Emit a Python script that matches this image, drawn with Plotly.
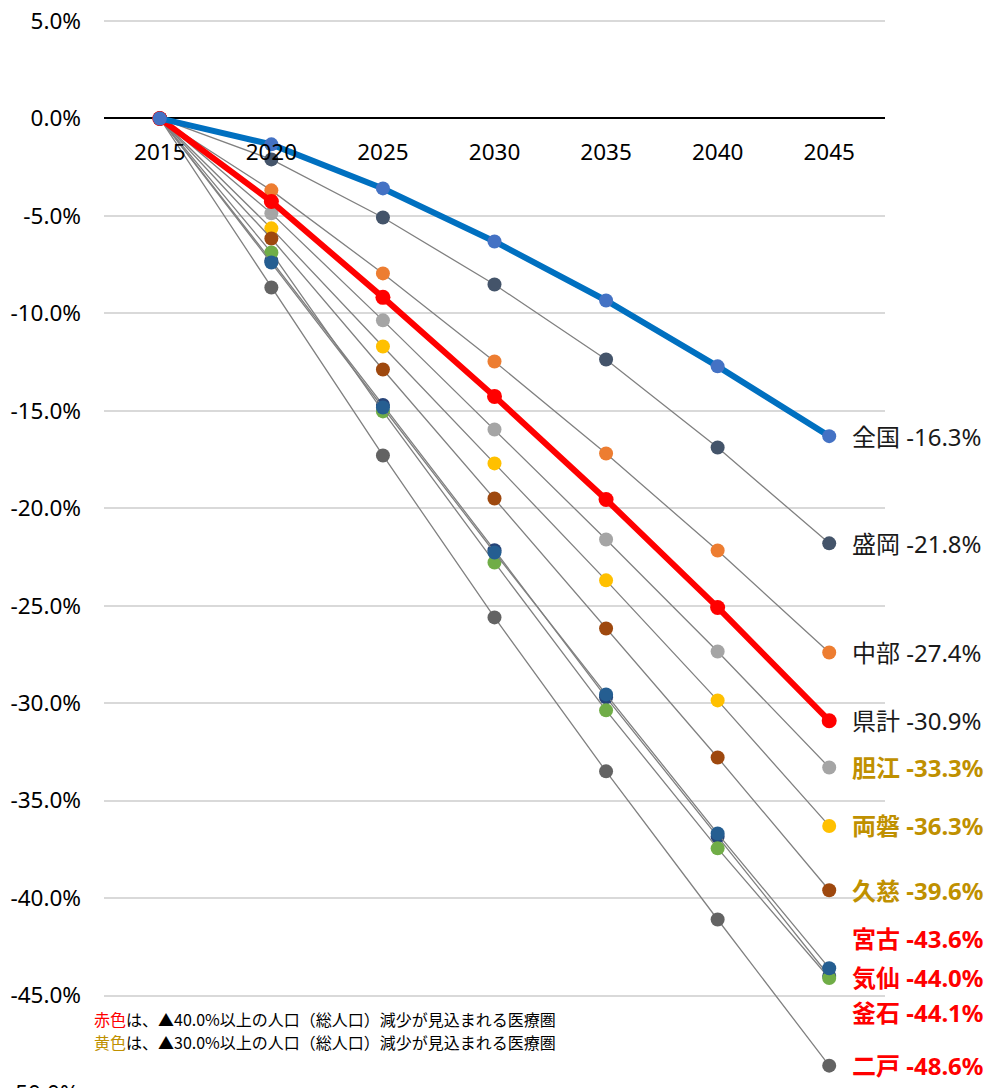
import plotly.graph_objects as go

# ---------------- data ----------------
years = ["2015", "2020", "2025", "2030", "2035", "2040", "2045"]

zenkoku  = [0, -1.33, -3.59, -6.31, -9.34, -12.72, -16.3]
morioka  = [0, -2.10, -5.08, -8.52, -12.37, -16.88, -21.8]
chubu    = [0, -3.69, -7.95, -12.47, -17.19, -22.17, -27.4]
kenkei   = [0, -4.26, -9.18, -14.26, -19.55, -25.09, -30.9]
tanko    = [0, -4.87, -10.36, -15.96, -21.60, -27.35, -33.3]
ryoban   = [0, -5.64, -11.70, -17.70, -23.70, -29.86, -36.3]
kuji     = [0, -6.16, -12.88, -19.50, -26.17, -32.79, -39.6]
kesen    = [0, -7.30, -14.70, -22.15, -29.70, -36.85, -44.0]
kamaishi = [0, -6.88, -15.03, -22.78, -30.37, -37.45, -44.1]
miyako   = [0, -7.39, -14.83, -22.27, -29.55, -36.69, -43.6]
ninohe   = [0, -8.67, -17.29, -25.60, -33.50, -41.10, -48.6]

y_tickvals = [5, 0, -5, -10, -15, -20, -25, -30, -35, -40, -45]
y_ticktext = ["5.0%", "0.0%", "-5.0%", "-10.0%", "-15.0%", "-20.0%",
              "-25.0%", "-30.0%", "-35.0%", "-40.0%", "-45.0%"]
y_cut_label = "-50.0%"

note_red = "赤色"
note_yellow = "黄色"
note_rest_red = "は、▲40.0%以上の人口（総人口）減少が見込まれる医療圏"
note_rest_yellow = "は、▲30.0%以上の人口（総人口）減少が見込まれる医療圏"

# name, values, marker color, label style, label y-shift (px)
series = [
    ("盛岡", morioka, "#44546A", "normal", 0),
    ("中部", chubu, "#ED7D31", "normal", 0),
    ("胆江", tanko, "#A5A5A5", "gold", 0),
    ("両磐", ryoban, "#FFC000", "gold", 0),
    ("久慈", kuji, "#9E480E", "gold", 0),
    ("気仙", kesen, "#264478", "red", -1),
    ("釜石", kamaishi, "#70AD47", "red", -35),
    ("宮古", miyako, "#255E91", "red", 30),
    ("二戸", ninohe, "#636363", "red", 0),
]

FONT = "Noto Sans, Noto Sans CJK JP, sans-serif"
fig = go.Figure()

for name, vals, col, style, dy in series:
    fig.add_trace(go.Scatter(
        x=years, y=vals, mode="lines+markers", name=name,
        line=dict(color="#808080", width=1.3),
        marker=dict(color=col, size=14, line=dict(width=0)),
        showlegend=False,
    ))

fig.add_trace(go.Scatter(
    x=years, y=kenkei, mode="lines+markers", name="県計",
    line=dict(color="#FF0000", width=6),
    marker=dict(color="#FF0000", size=15, line=dict(width=0)),
    showlegend=False,
))
fig.add_trace(go.Scatter(
    x=years, y=zenkoku, mode="lines+markers", name="全国",
    line=dict(color="#0070C0", width=6),
    marker=dict(color="#4472C4", size=14, line=dict(width=0)),
    showlegend=False,
))

label_styles = {
    "normal": dict(color="#1a1a1a", bold=False),
    "gold": dict(color="#BF9000", bold=True),
    "red": dict(color="#FF0000", bold=True),
}

all_labels = [("全国", zenkoku, "normal", 0), ("県計", kenkei, "normal", 0)] + \
             [(n, v, s, d) for n, v, c, s, d in series]

annotations = []
for name, vals, style, dy in all_labels:
    st = label_styles[style]
    txt = f"{name} {vals[-1]:.1f}%"
    if st["bold"]:
        txt = f"<b>{txt}</b>"
    annotations.append(dict(
        x=len(years) - 1, y=vals[-1], xref="x", yref="y",
        text=txt, showarrow=False, xanchor="left", yanchor="middle",
        xshift=21, yshift=dy,
        font=dict(family=FONT, size=24, color=st["color"]),
    ))

annotations.append(dict(
    x=0, y=y_tickvals[-1], xref="paper", yref="y",
    text=f'<span style="color:#FF0000">{note_red}</span>{note_rest_red}',
    showarrow=False, xanchor="left", yanchor="middle", xshift=-12, yshift=-23,
    font=dict(family="Noto Sans CJK JP", size=16, color="#000000"),
))
annotations.append(dict(
    x=0, y=y_tickvals[-1], xref="paper", yref="y",
    text=f'<span style="color:#BF9000">{note_yellow}</span>{note_rest_yellow}',
    showarrow=False, xanchor="left", yanchor="middle", xshift=-12, yshift=-46,
    font=dict(family="Noto Sans CJK JP", size=16, color="#000000"),
))

# page has an 8px body margin: figure spans page pixels 8..998 x 8..1088
W, H = 990, 1080
top, bottom = 9, 0
plot_h = H - top - bottom
px_per_unit = 19.49
y_top = 5 + 4 / px_per_unit   # headroom so the 5.0% gridline is kept
y_bottom = y_top - plot_h / px_per_unit
zero_frac = (0 - y_bottom) / (y_top - y_bottom)

annotations.append(dict(
    x=0, y=-4 / plot_h, xref="paper", yref="paper",
    text=y_cut_label, showarrow=False, xanchor="right", yanchor="middle",
    xshift=-23,
    font=dict(family=FONT, size=22.5, color="#000000"),
))

fig.update_layout(
    width=W, height=H,
    margin=dict(l=96, r=113, t=top, b=bottom, autoexpand=False),
    plot_bgcolor="white", paper_bgcolor="white",
    font=dict(family=FONT, size=22, color="#000000"),
    annotations=annotations,
    xaxis=dict(
        type="category", range=[-0.5, len(years) - 0.5],
        showgrid=False, showline=False, zeroline=False,
        anchor="free", position=zero_frac, automargin=False,
        ticks="", ticklabelstandoff=18,
        tickfont=dict(family=FONT, size=22.5, color="#000000"),
    ),
    yaxis=dict(
        range=[y_bottom, y_top], tickvals=y_tickvals, ticktext=y_ticktext,
        showgrid=True, gridcolor="#D9D9D9", gridwidth=1.5,
        zeroline=True, zerolinecolor="#000000", zerolinewidth=2,
        showline=False, ticks="", ticklabelstandoff=22, automargin=False,
        ticklabeloverflow="allow",
        tickfont=dict(family=FONT, size=22.5, color="#000000"),
    ),
)

fig.write_html("out.html")
